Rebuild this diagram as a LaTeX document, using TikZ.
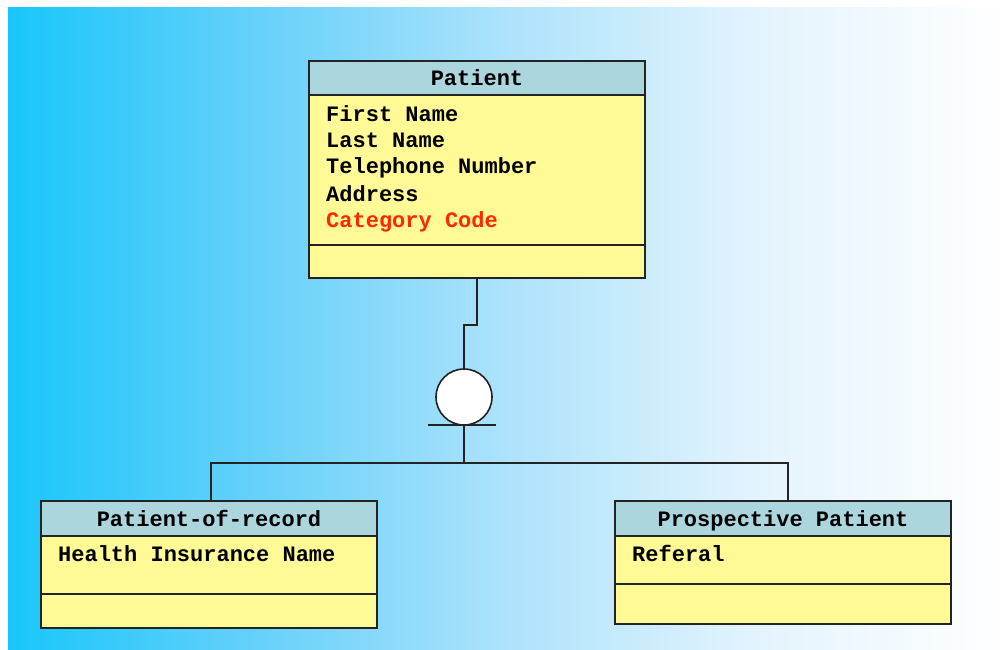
\documentclass[tikz,border=0pt]{standalone}
\usepackage{fontspec}
\newfontfamily\entfont{Liberation Mono}
\newcommand\entstyle{\entfont\bfseries\fontsize{22pt}{26pt}\selectfont}
\definecolor{bgA}{RGB}{25,198,250}
\definecolor{bgB}{RGB}{100,208,250}
\definecolor{bgC}{RGB}{172,226,251}
\definecolor{bgD}{RGB}{226,243,253}
\definecolor{hdrfill}{RGB}{172,214,222}
\definecolor{bodyfill}{RGB}{255,249,150}
\definecolor{keyred}{RGB}{255,40,0}
\definecolor{inkline}{RGB}{35,35,35}
\begin{document}
\begin{tikzpicture}[x=1pt,y=-1pt,
  boxline/.style={draw=inkline, line width=1.6pt, outer sep=0pt},
  headbox/.style={boxline, fill=hdrfill, minimum width=336pt, minimum height=35pt,
    text height=15pt, text depth=0pt,
    anchor=north west, inner sep=0pt, font=\entstyle},
  bodybox/.style={boxline, fill=bodyfill, minimum width=336pt, anchor=north west, inner sep=0pt},
  attr/.style={anchor=base west, inner sep=0pt, font=\entstyle},
  wire/.style={draw=inkline, line width=1.6pt},
  disc/.style={circle, draw=inkline, line width=1.6pt, fill=white, minimum size=56pt,
    inner sep=0pt, outer sep=0pt}
]
\useasboundingbox (0,0) rectangle (1005,650);

% background gradient, cyan on the left fading to white on the right
\shade[left color=bgA, right color=bgB, draw=none] (8,8) rectangle (250,650);
\shade[left color=bgB, right color=bgC, draw=none] (250,8) rectangle (500,650);
\shade[left color=bgC, right color=bgD, draw=none] (500,8) rectangle (750,650);
\shade[left color=bgD, right color=white, draw=none] (750,8) rectangle (1005,650);

% Patient entity
\node[headbox, minimum height=34pt] (pHead) at (309,61) {Patient};
\node[bodybox, minimum height=150pt] (pAttr) at (pHead.south west) {};
\node[bodybox, minimum height=33pt] (pOps) at (pAttr.south west) {};
\node[attr] (aFirst) at (326,122) {First Name};
\node[attr] (aLast) at (326,148) {Last Name};
\node[attr] (aPhone) at (326,174) {Telephone Number};
\node[attr] (aAddr) at (326,201) {Address};
\node[attr, text=keyred] (aCat) at (326,227) {Category Code};

% Patient-of-record entity
\node[headbox] (rHead) at (41,501) {Patient-of-record};
\node[bodybox, minimum height=58pt] (rAttr) at (rHead.south west) {};
\node[bodybox, minimum height=34pt] (rOps) at (rAttr.south west) {};
\node[attr] (aIns) at (58,561) {Health Insurance Name};

% Prospective Patient entity
\node[headbox] (sHead) at (615,501) {Prospective Patient};
\node[bodybox, minimum height=48pt] (sAttr) at (sHead.south west) {};
\node[bodybox, minimum height=40pt] (sOps) at (sAttr.south west) {};
\node[attr] (aRef) at (632,561) {Referal};

% generalisation symbol
\node[disc] (gen) at (464,397) {};
\draw[wire] ([xshift=-36pt]gen.south) -- ([xshift=32pt]gen.south);

% connectors
\coordinate (fork) at (464,463);
\draw[wire] (pOps.south) -- ++(0,47) -| (gen.north);
\draw[wire] (gen.south) -- (fork);
\draw[wire] ([xshift=2pt]rHead.north) |- (fork) -| ([xshift=5pt]sHead.north);
\end{tikzpicture}
\end{document}
